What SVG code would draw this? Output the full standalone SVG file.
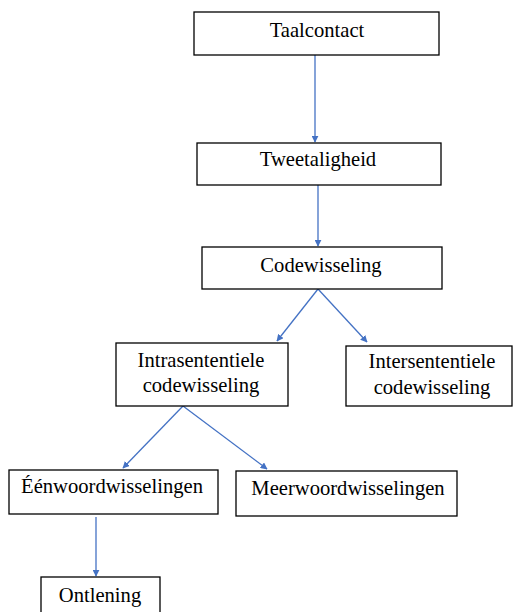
<svg xmlns="http://www.w3.org/2000/svg" width="514" height="612" viewBox="0 0 514 612">
<style>
.box{fill:#fff;stroke:#000;stroke-width:1.3}
.t{font-family:"Liberation Serif","Times New Roman",serif;font-size:20.6px;fill:#000;text-anchor:middle}
.c{stroke:#4472C4;stroke-width:1.3;fill:none;marker-end:url(#ah)}
</style>
<defs>
<marker id="ah" viewBox="0 0 10 10" refX="9" refY="5" markerWidth="7" markerHeight="7" markerUnits="userSpaceOnUse" orient="auto">
<path d="M0,0 L10,5 L0,10 z" fill="#4472C4"/>
</marker>
</defs>
<rect width="514" height="612" fill="#fff"/>
<g id="connectors">
<line class="c" x1="315" y1="55" x2="315" y2="142"/>
<line class="c" x1="318" y1="185" x2="318" y2="246"/>
<line class="c" x1="318" y1="289" x2="277" y2="341"/>
<line class="c" x1="318" y1="289" x2="367" y2="342"/>
<line class="c" x1="183" y1="406" x2="123" y2="468"/>
<line class="c" x1="183" y1="406" x2="267" y2="469"/>
<line class="c" x1="96" y1="517" x2="96" y2="576"/>
</g>
<g id="taalcontact"><rect class="box" x="194" y="12" width="245" height="43"/><text class="t" x="317" y="37">Taalcontact</text></g>
<g id="tweetaligheid"><rect class="box" x="197" y="143" width="244" height="42"/><text class="t" x="318" y="166">Tweetaligheid</text></g>
<g id="codewisseling"><rect class="box" x="202" y="247" width="240" height="42"/><text class="t" x="321" y="272">Codewisseling</text></g>
<g id="intra"><rect class="box" x="116" y="343" width="172" height="63"/><text class="t" x="201" y="367">Intrasententiele</text><text class="t" x="201" y="392">codewisseling</text></g>
<g id="inter"><rect class="box" x="346" y="346" width="166" height="60"/><text class="t" x="432" y="368">Intersententiele</text><text class="t" x="432" y="394">codewisseling</text></g>
<g id="eenwoord"><rect class="box" x="9" y="470" width="209" height="44"/><text class="t" x="112" y="493">Éénwoordwisselingen</text></g>
<g id="meerwoord"><rect class="box" x="236" y="471" width="221" height="45"/><text class="t" x="348" y="495">Meerwoordwisselingen</text></g>
<g id="ontlening"><rect class="box" x="41" y="577" width="119" height="40"/><text class="t" x="100" y="602">Ontlening</text></g>
</svg>
